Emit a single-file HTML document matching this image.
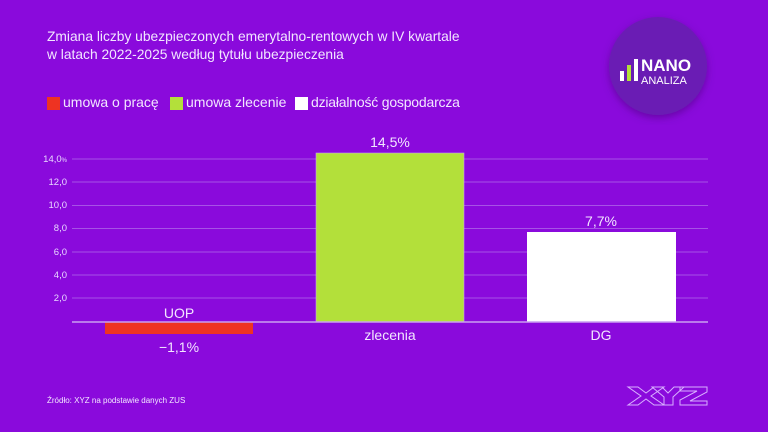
<!DOCTYPE html>
<html><head><meta charset="utf-8"><style>
body{margin:0;width:768px;height:432px;background:#8a0adc;overflow:hidden;position:relative;font-family:"Liberation Sans",sans-serif;color:#fff}
.t{position:absolute;white-space:nowrap}
</style></head><body>
<div class="t" style="left:47px;top:28px;font-size:13.8px;line-height:18px;color:#f2e6ff">Zmiana liczby ubezpieczonych emerytalno-rentowych w IV kwartale<br>w latach 2022-2025 według tytułu ubezpieczenia</div>
<div class="t" style="left:47px;top:97px;width:13px;height:13px;background:#ee3322"></div>
<div class="t" style="left:63px;top:94px;font-size:14px;color:#f2e6ff">umowa o pracę</div>
<div class="t" style="left:170px;top:97px;width:13px;height:13px;background:#b3e03a"></div>
<div class="t" style="left:186px;top:94px;font-size:14px;color:#f2e6ff">umowa zlecenie</div>
<div class="t" style="left:295px;top:97px;width:13px;height:13px;background:#fff"></div>
<div class="t" style="left:311px;top:94px;font-size:14px;color:#f2e6ff;letter-spacing:-0.2px">działalność gospodarcza</div>
<svg width="768" height="432" style="position:absolute;left:0;top:0">
<defs><filter id="sh"><feDropShadow dx="0" dy="3" stdDeviation="4" flood-color="#400070" flood-opacity="0.5"/></filter></defs>
<circle cx="658" cy="66" r="49" fill="#6a1eb4" filter="url(#sh)"/>
<rect x="620" y="71" width="4" height="10" fill="#fff"/>
<rect x="627" y="65" width="4" height="16" fill="#b3e03a"/>
<rect x="634" y="59" width="4" height="22" fill="#fff"/>
<text x="641" y="71" font-size="17" font-weight="bold" fill="#fff" font-family="Liberation Sans">NANO</text>
<text x="641" y="84" font-size="11" fill="#fff" font-family="Liberation Sans">ANALIZA</text>
<g stroke="#a752e6" stroke-width="1">
<line x1="72" y1="159" x2="708" y2="159"/><line x1="72" y1="182" x2="708" y2="182"/><line x1="72" y1="205.5" x2="708" y2="205.5"/><line x1="72" y1="228.5" x2="708" y2="228.5"/><line x1="72" y1="252" x2="708" y2="252"/><line x1="72" y1="275" x2="708" y2="275"/><line x1="72" y1="298" x2="708" y2="298"/>
</g>
<g font-size="9.5" fill="#e8d8ff" text-anchor="end" font-family="Liberation Sans">
<text x="67" y="162">14,0<tspan font-size="6">%</tspan></text><text x="67" y="185">12,0</text><text x="67" y="208">10,0</text><text x="67" y="231">8,0</text><text x="67" y="255">6,0</text><text x="67" y="278">4,0</text><text x="67" y="301">2,0</text>
</g>
<rect x="105" y="322" width="148" height="12" fill="#ee3322"/>
<rect x="316" y="153" width="148" height="169" fill="#b3e03a" stroke="#c9a0f0" stroke-width="0.6"/>
<rect x="527" y="232" width="149" height="90" fill="#fff"/>
<line x1="72" y1="322" x2="708" y2="322" stroke="#c9a0f0" stroke-width="1.5"/>
<g font-size="14" fill="#f2e6ff" text-anchor="middle" font-family="Liberation Sans">
<text x="179" y="318">UOP</text><text x="179" y="352">−1,1%</text>
<text x="390" y="147">14,5%</text><text x="390" y="340">zlecenia</text>
<text x="601" y="226">7,7%</text><text x="601" y="340">DG</text>
</g>
<text x="47" y="403" font-size="8" fill="#f2e6ff" font-family="Liberation Sans">Źródło: XYZ na podstawie danych ZUS</text>
<g fill="none" stroke="#d8b0ff" stroke-width="1">
<path d="M628 387h10l8 6 8-6h10l-13 9 13 9h-10l-8-6-8 6h-10l13-9z"/>
<path d="M652 387h10l6 6 6-6h10l-11 10v8h-9v-8z"/>
<path d="M680 387h27v5l-17 9h17v4h-27v-5l17-9h-17z"/>
</g>
</svg>
</body></html>
